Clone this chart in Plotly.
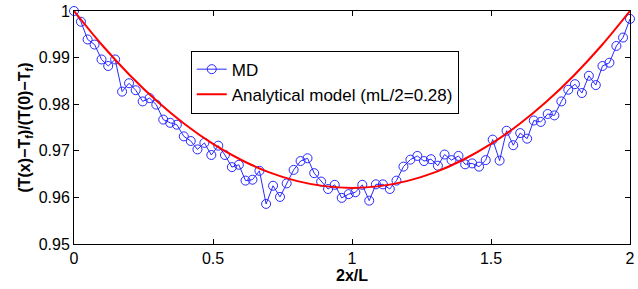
import plotly.graph_objects as go

# MD simulation profile (82 bins across 0..2)
md_x = [0.000, 0.025, 0.049, 0.074, 0.099, 0.123, 0.148, 0.173, 0.198, 0.222,
        0.247, 0.272, 0.296, 0.321, 0.346, 0.370, 0.395, 0.420, 0.444, 0.469,
        0.494, 0.519, 0.543, 0.568, 0.593, 0.617, 0.642, 0.667, 0.691, 0.716,
        0.741, 0.765, 0.790, 0.815, 0.840, 0.864, 0.889, 0.914, 0.938, 0.963,
        0.988, 1.012, 1.037, 1.062, 1.086, 1.111, 1.136, 1.160, 1.185, 1.210,
        1.235, 1.259, 1.284, 1.309, 1.333, 1.358, 1.383, 1.407, 1.432, 1.457,
        1.481, 1.506, 1.531, 1.556, 1.580, 1.605, 1.630, 1.654, 1.679, 1.704,
        1.728, 1.753, 1.778, 1.802, 1.827, 1.852, 1.877, 1.901, 1.926, 1.951,
        1.975, 2.000]
md_y = [1.0000, 0.9977, 0.9939, 0.9928, 0.9896, 0.9882, 0.9896, 0.9827, 0.9845, 0.9830,
        0.9806, 0.9813, 0.9799, 0.9767, 0.9760, 0.9756, 0.9731, 0.9721, 0.9703, 0.9717,
        0.9691, 0.9711, 0.9691, 0.9665, 0.9670, 0.9636, 0.9638, 0.9657, 0.9586, 0.9625,
        0.9601, 0.9630, 0.9659, 0.9678, 0.9684, 0.9652, 0.9634, 0.9618, 0.9627, 0.9599,
        0.9607, 0.9611, 0.9627, 0.9593, 0.9628, 0.9628, 0.9618, 0.9636, 0.9666, 0.9681,
        0.9689, 0.9678, 0.9682, 0.9668, 0.9692, 0.9680, 0.9689, 0.9671, 0.9673, 0.9666,
        0.9680, 0.9724, 0.9679, 0.9743, 0.9712, 0.9738, 0.9726, 0.9765, 0.9762, 0.9779,
        0.9776, 0.9806, 0.9831, 0.9843, 0.9824, 0.9861, 0.9841, 0.9882, 0.9889, 0.9925,
        0.9943, 0.9983]

# Analytical model curve (read at 0.1 steps)
model_x = [0.0, 0.1, 0.2, 0.3, 0.4, 0.5, 0.6, 0.7, 0.8, 0.9, 1.0,
           1.1, 1.2, 1.3, 1.4, 1.5, 1.6, 1.7, 1.8, 1.9, 2.0]
model_y = [1.0, 0.99275, 0.98628, 0.98058, 0.97565, 0.97148, 0.96808, 0.96543, 0.96355, 0.96242, 0.96204,
           0.96242, 0.96355, 0.96543, 0.96808, 0.97148, 0.97565, 0.98058, 0.98628, 0.99275, 1.0]

x_ticks = [0, 0.5, 1, 1.5, 2]
x_tick_labels = ["0", "0.5", "1", "1.5", "2"]
y_ticks = [0.95, 0.96, 0.97, 0.98, 0.99, 1.0]
y_tick_labels = ["0.95", "0.96", "0.97", "0.98", "0.99", "1"]

FONT = "Liberation Sans, Arial, Helvetica, sans-serif"

fig = go.Figure()
fig.add_trace(go.Scatter(
    x=md_x, y=md_y, mode="lines+markers", name="MD",
    line=dict(color="rgb(40,40,255)", width=1),
    marker=dict(symbol="circle-open", size=9, color="rgb(40,40,255)", line=dict(width=1)),
    cliponaxis=False,
))
fig.add_trace(go.Scatter(
    x=model_x, y=model_y, mode="lines", name="Analytical model (mL/2=0.28)",
    line=dict(color="red", width=2, shape="spline"),
    cliponaxis=False,
))

axis_common = dict(
    showgrid=False, zeroline=False, showline=True, linecolor="black", linewidth=1,
    mirror="ticks", ticks="inside", ticklen=5, tickcolor="black",
    tickfont=dict(family=FONT, size=16, color="black"),
    ticklabeloverflow="allow",
)

fig.update_layout(
    width=638, height=289,
    margin=dict(l=74, r=3, t=7, b=45),
    paper_bgcolor="white", plot_bgcolor="white",
    font=dict(family=FONT, color="black"),
    xaxis=dict(range=[0, 2], tickvals=x_ticks, ticktext=x_tick_labels,
               title=dict(text="<b>2x/L</b>", font=dict(family=FONT, size=16), standoff=2),
               **axis_common),
    yaxis=dict(range=[0.95, 1.0], tickvals=y_ticks, ticktext=y_tick_labels,
               title=dict(text="<b>(T(x)−T<sub>f</sub>)/(T(0)−T<sub>f</sub>)</b>",
                          font=dict(family=FONT, size=16), standoff=4),
               **axis_common),
    legend=dict(x=0.21, y=0.83, xanchor="left", yanchor="top",
                bgcolor="white", bordercolor="black", borderwidth=1,
                font=dict(family=FONT, size=17, color="black"),
                itemwidth=30, tracegroupgap=0),
    showlegend=True,
)

fig.write_html("out.html", config={"displayModeBar": False},
               post_script="document.body.style.margin='0px';document.body.style.overflow='hidden';")
